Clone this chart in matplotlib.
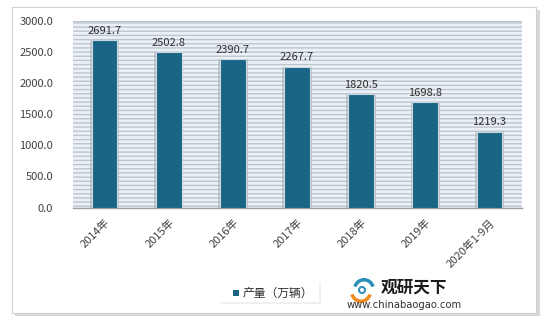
import matplotlib
matplotlib.use("Agg")
import matplotlib.pyplot as plt
from matplotlib.patches import Rectangle, Wedge
import numpy as np

plt.rcParams['font.family'] = ['Noto Sans CJK SC', 'DejaVu Sans']
plt.rcParams['hatch.color'] = '#c0c5cc'
plt.rcParams['hatch.linewidth'] = 1.0

categories = ['2014年', '2015年', '2016年', '2017年', '2018年', '2019年', '2020年1-9月']
values = [2691.7, 2502.8, 2390.7, 2267.7, 1820.5, 1698.8, 1219.3]
yticks = [0, 500, 1000, 1500, 2000, 2500, 3000]
series_name = '产量（万辆）'

W, H = 549, 322
fig = plt.figure(figsize=(W / 100, H / 100), dpi=100)
fig.patch.set_facecolor('white')

# background axes for outer frame
bg = fig.add_axes([0, 0, 1, 1], zorder=-5)
bg.set_xlim(0, W); bg.set_ylim(H, 0); bg.axis('off')
bg.add_patch(Rectangle((15, 10), 525, 306, facecolor='#d8d8d8', edgecolor='none'))
bg.add_patch(Rectangle((12, 7), 524, 306, facecolor='white', edgecolor='#d0d0d0', lw=0.8))
# legend box
bg.add_patch(Rectangle((221, 282), 100, 22, facecolor='#f0f0f0', edgecolor='none'))
bg.add_patch(Rectangle((220, 281), 99, 21, facecolor='white', edgecolor='none'))
bg.add_patch(Rectangle((233, 290), 6, 6, facecolor='#1a6585', edgecolor='none'))
bg.text(243, 293, series_name, fontsize=8.5, color='#303030', va='center', ha='left')
# logo
bg.add_patch(Wedge((364, 289), 11, 195, 345, width=3.5, facecolor='#2a8fb8', edgecolor='none'))
bg.add_patch(Wedge((361, 292), 11, 15, 165, width=3.5, facecolor='#f08a1c', edgecolor='none'))
bg.add_patch(Wedge((362, 290), 4, 0, 360, width=2, facecolor='#2a8fb8', edgecolor='none'))
bg.text(381, 288, '观研天下', fontsize=12, fontweight='bold', color='#1a1a1a',
        va='center', ha='left')
bg.text(347, 305, 'www.chinabaogao.com', fontsize=7.2, color='#303030',
        va='center', ha='left', family='DejaVu Sans')

ax = fig.add_axes([72.5 / W, 1 - 207.5 / H, 449 / W, 186.5 / H], zorder=1)
ax.set_facecolor('#eaf1f8')
ax.add_patch(Rectangle((0, 0), 1, 1, transform=ax.transAxes, facecolor='none',
                       edgecolor='#c0c5cc', hatch='----', lw=0, zorder=0))

x = np.arange(len(categories))
# shadows
ax.bar(x, values, width=0.46, color='#9aa0a6', alpha=0.45, zorder=2)
ax.bar(x, values, width=0.40, color='#1a6585', edgecolor='#c8d8e2', linewidth=0.8, zorder=3)

for xi, v in zip(x, values):
    ax.text(xi, v + 70, f'{v:.1f}', ha='center', va='bottom', fontsize=8, color='#303030', zorder=4)

ax.set_xlim(-0.5, len(categories) - 0.5)
ax.set_ylim(0, 3000)
ax.set_yticks(yticks)
ax.set_yticklabels([f'{t:.1f}' for t in yticks], fontsize=8, color='#404040')
ax.set_xticks(x)
ax.set_xticklabels(categories, rotation=45, ha='right', va='top', rotation_mode='anchor',
                   fontsize=8, color='#404040')
ax.tick_params(axis='y', length=0, pad=14)
ax.tick_params(axis='x', length=0, pad=7)
for s in ['left', 'right', 'top']:
    ax.spines[s].set_visible(False)
ax.spines['bottom'].set_color('#a0a0a0')
ax.spines['bottom'].set_linewidth(1.0)
ax.axhline(3000, color='#c0c5cc', lw=1, zorder=1)

fig.savefig('out.png', dpi=100)
